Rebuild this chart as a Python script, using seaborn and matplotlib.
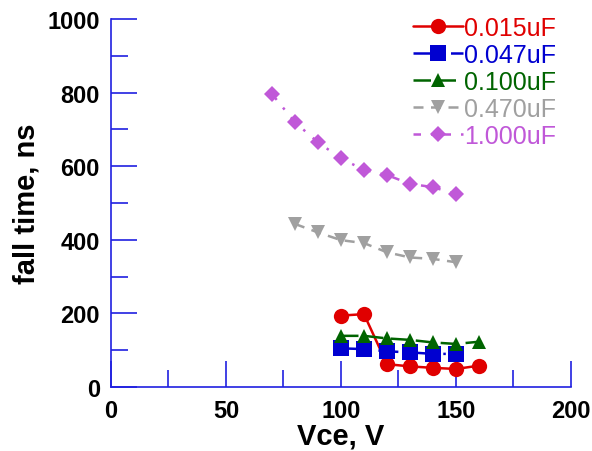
import numpy as np
import matplotlib.pyplot as plt
import pandas as pd
import seaborn as sns
from matplotlib.ticker import MultipleLocator

sns.set_style("ticks")
plt.rcParams["font.family"] = ["Liberation Sans", "DejaVu Sans"]
plt.rcParams["text.color"] = "black"
plt.rcParams["axes.labelcolor"] = "black"
plt.rcParams["xtick.labelcolor"] = "black"
plt.rcParams["ytick.labelcolor"] = "black"

# fall time (ns) vs Vce (V), one series per snubber capacitance
labels = ["0.015uF", "0.047uF", "0.100uF", "0.470uF", "1.000uF"]
vce_a = [100, 110, 120, 130, 140, 150, 160]
vce_b = [100, 110, 120, 130, 140, 150]
vce_c = [80, 90, 100, 110, 120, 130, 140, 150]
vce_d = [70, 80, 90, 100, 110, 120, 130, 140, 150]
t_015 = [194, 198, 62, 56, 52, 49, 58]
t_047 = [105, 103, 97, 94, 90, 90]
t_100 = [139, 139, 132, 128, 121, 117, 123]
t_470 = [443, 420, 399, 391, 366, 352, 348, 339]
t_1000 = [796, 719, 665, 621, 590, 576, 552, 543, 524]

xs = [vce_a, vce_b, vce_a, vce_c, vce_d]
ys = [t_015, t_047, t_100, t_470, t_1000]
colors = ["#e00000", "#0000d0", "#006400", "#a0a0a0", "#c058d8"]
markers = ["o", "s", "^", "v", "D"]
msizes = [11, 11, 10.5, 10.5, 8.5]
dashes = ["-", (0, (8, 3, 1, 3)), (0, (7, 3)), (0, (4, 3)), (0, (3, 4, 1, 4))]

fig = plt.figure(figsize=(5.92, 4.52), dpi=100)
ax = fig.add_axes([0.1875, 0.1416, 0.777, 0.8142])

for x, y, lab, c, m, ms, ls in zip(xs, ys, labels, colors, markers, msizes, dashes):
    d = pd.DataFrame({"Vce": x, "t": y})
    sns.lineplot(data=d, x="Vce", y="t", ax=ax, color=c, marker=m, markersize=ms,
                 markeredgewidth=0, linewidth=1.8, linestyle=ls, label=lab)

ax.set_xlim(0, 200)
ax.set_ylim(0, 1000)
ax.xaxis.set_major_locator(MultipleLocator(50))
ax.xaxis.set_minor_locator(MultipleLocator(25))
ax.yaxis.set_major_locator(MultipleLocator(200))
ax.yaxis.set_minor_locator(MultipleLocator(100))
ax.tick_params(which="both", direction="in", color="#2020e0", width=1.2)
ax.tick_params(which="major", length=19)
ax.tick_params(which="minor", length=12)
ax.tick_params(axis="x", pad=9)
ax.tick_params(axis="y", pad=8)
for lbl in ax.get_xticklabels() + ax.get_yticklabels():
    lbl.set_fontsize(17)
    lbl.set_fontweight("bold")

for s in ["top", "right"]:
    ax.spines[s].set_visible(False)
for s in ["left", "bottom"]:
    ax.spines[s].set_color("#2020e0")
    ax.spines[s].set_linewidth(1.2)

ax.set_xlabel("Vce, V", fontsize=21, fontweight="bold", labelpad=-1)
ax.set_ylabel("fall time, ns", fontsize=21, fontweight="bold", labelpad=5)

leg = ax.legend(loc="upper right", bbox_to_anchor=(0.99, 1.035), frameon=False,
                fontsize=18, handlelength=2.0, handletextpad=0.05, labelspacing=0.12,
                borderaxespad=0)
for t, c in zip(leg.get_texts(), colors):
    t.set_color(c)

fig.savefig("out.png", dpi=100)
